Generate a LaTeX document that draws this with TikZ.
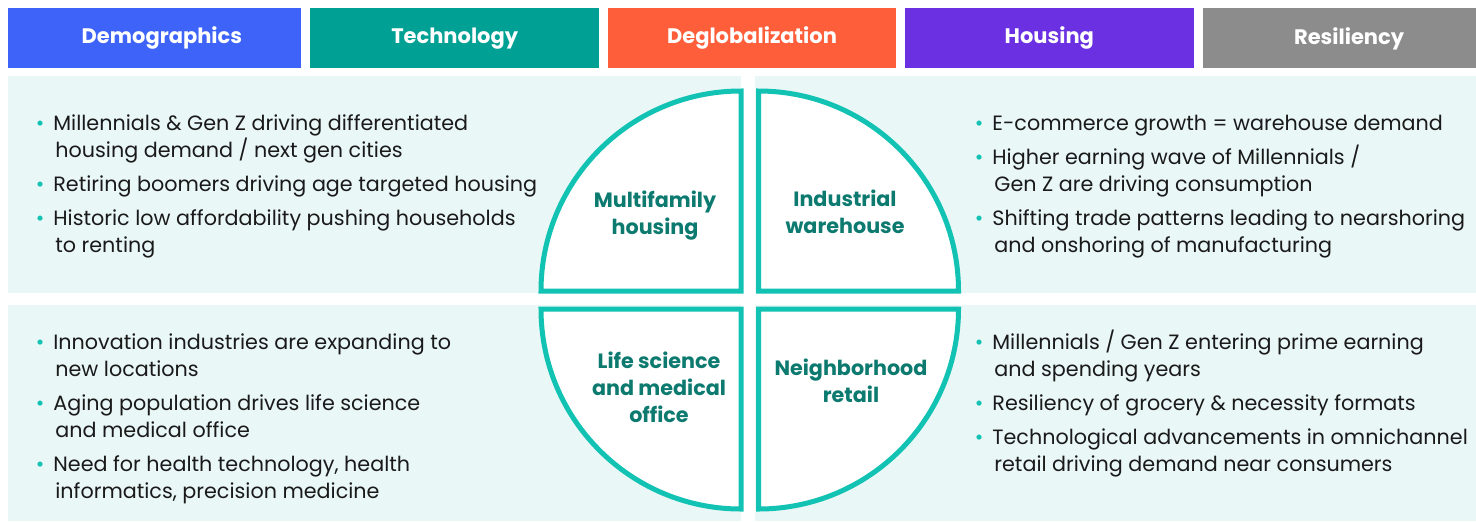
\documentclass[tikz,border=0pt]{standalone}
\usepackage{fontspec}
\setmainfont{Poppins}
\usetikzlibrary{positioning}

% palette
\definecolor{cdemo}{HTML}{3D63F8}
\definecolor{ctech}{HTML}{00A194}
\definecolor{cdeglob}{HTML}{FF5E3A}
\definecolor{chousing}{HTML}{6A30E2}
\definecolor{cresil}{HTML}{8C8C8C}
\definecolor{cpanel}{HTML}{E9F7F6}
\definecolor{cring}{HTML}{12C2B3}
\definecolor{clabel}{HTML}{0D7A70}
\definecolor{ctext}{HTML}{1A1A1A}

% bullet and continuation indent
\newcommand{\bul}{\makebox[8.75pt][l]{\textcolor{cring}{•}}}
\newcommand{\cont}{\hspace*{9.75pt}}

\tikzset{
    hbar/.style={anchor=north west, minimum height=30pt, inner sep=0pt,
        text=white, font=\bfseries\fontsize{10.5}{12}\selectfont},
    panel/.style={fill=cpanel, draw=none},
    quad/.style={draw=cring, line width=2.5pt, fill=white},
    qlabel/.style={align=center, text=clabel,
        font=\bfseries\fontsize{10.35}{13.5}\selectfont},
    % anchored on the baseline of the last line
    blist/.style={anchor=base west, align=left, inner sep=0pt, text=ctext,
        font=\fontsize{10.35}{13.5}\selectfont},
}

\begin{document}
\begin{tikzpicture}[x=0.5pt, y=-0.5pt]
    \useasboundingbox (0,0) rectangle (1476,521);

    % header bars
    \node[hbar, fill=cdemo, minimum width=146.5pt] (hdemo) at (8,8) {\hspace*{7pt}Demographics};
    \node[hbar, fill=ctech, minimum width=144.5pt, right=4pt of hdemo] (htech) {Technology};
    \node[hbar, fill=cdeglob, minimum width=144pt, right=4pt of htech] (hdeglob) {Deglobalization};
    \node[hbar, fill=chousing, minimum width=144.5pt, right=4pt of hdeglob] (hhousing) {Housing};
    \node[hbar, fill=cresil, minimum width=138.5pt, right=4pt of hhousing] (hresil) {\hspace*{8pt}Resiliency};

    % background panels
    \fill[panel] (8,76) rectangle (741,293);
    \fill[panel] (755,76) rectangle (1476,293);
    \fill[panel] (8,305) rectangle (741,521);
    \fill[panel] (755,305) rectangle (1476,521);

    % the four quarter discs
    \draw[quad] (741,291) -- (541,291) arc[start angle=180, end angle=90, radius=100pt] -- cycle;
    \draw[quad] (758.5,291) -- (758.5,91) arc[start angle=90, end angle=0, radius=100pt] -- cycle;
    \draw[quad] (741,309) -- (541,309) arc[start angle=180, end angle=270, radius=100pt] -- cycle;
    \draw[quad] (758.5,309) -- (958.5,309) arc[start angle=0, end angle=-90, radius=100pt] -- cycle;

    \node[qlabel] (multi) at (655,216) {Multifamily\\housing};
    \node[qlabel] (indus) at (845,212) {Industrial\\warehouse};
    \node[qlabel] (life) at (659,387) {Life science\\and medical\\office};
    \node[qlabel] (retail) at (851,381) {Neighborhood\\retail};

    % bullet texts
    \node[blist] (ltop) at (35.5,252) {\bul Millennials \& Gen Z driving differentiated\\
        \cont housing demand / next gen cities\\[3.5pt]
        \bul Retiring boomers driving age targeted housing\\[3.5pt]
        \bul Historic low affordability pushing households\\
        \cont to renting};
    \node[blist] (rtop) at (974.5,252) {\bul E-commerce growth = warehouse demand\\[3.5pt]
        \bul Higher earning wave of Millennials /\\
        \cont Gen Z are driving consumption\\[3.5pt]
        \bul Shifting trade patterns leading to nearshoring\\
        \cont and onshoring of manufacturing};
    \node[blist] (lbot) at (35.5,498) {\bul Innovation industries are expanding to\\
        \cont new locations\\[3.5pt]
        \bul Aging population drives life science\\
        \cont and medical office\\[3.5pt]
        \bul Need for health technology, health\\
        \cont informatics, precision medicine};
    \node[blist] (rbot) at (974.5,471) {\bul Millennials / Gen Z entering prime earning\\
        \cont and spending years\\[3.5pt]
        \bul Resiliency of grocery \& necessity formats\\[3.5pt]
        \bul Technological advancements in omnichannel\\
        \cont retail driving demand near consumers};
\end{tikzpicture}
\end{document}
